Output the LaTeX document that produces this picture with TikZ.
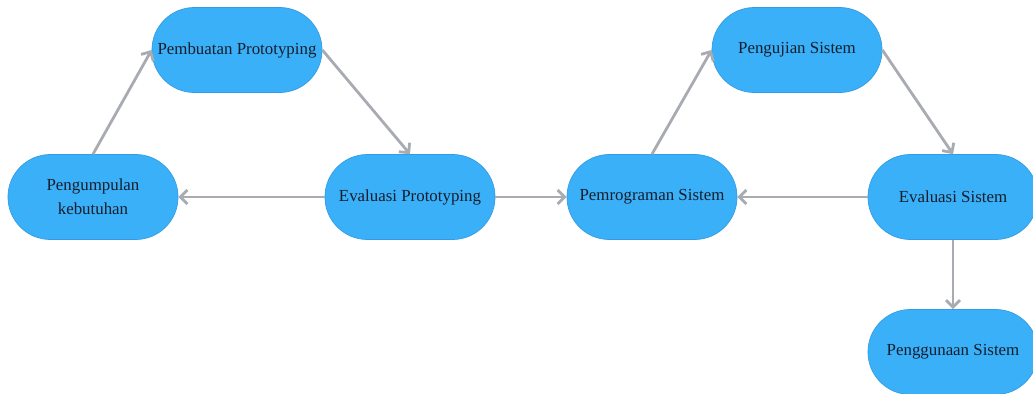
\documentclass[tikz,border=0pt]{standalone}
\usepackage{fontspec}
\setmainfont{Liberation Serif}
\usetikzlibrary{arrows.meta}
\definecolor{pillblue}{RGB}{58,176,248}
\definecolor{pillline}{RGB}{52,156,228}
\definecolor{linkgray}{RGB}{168,172,178}
\definecolor{textdark}{RGB}{22,30,44}
\begin{document}
\begin{tikzpicture}[x=0.025cm,y=-0.025cm,
    step box/.style={draw=pillline,line width=0.5pt,fill=pillblue,rounded corners=1.06cm,
        minimum width=4.25cm,minimum height=2.125cm,align=center,text=textdark,
        font=\fontsize{12}{17}\selectfont},
    link/.style={draw=linkgray,line width=2pt,-{Straight Barb[length=5pt,width=10pt,line width=2pt]}}]
        \useasboundingbox (0,0) rectangle (1033,394);
        \clip (0,0) rectangle (1033,394);

        % first cycle
        \node[step box] (kumpul) at (93,197) {Pengumpulan\\kebutuhan};
        \node[step box] (buat) at (237,50) {Pembuatan Prototyping};
        \node[step box] (evproto) at (410,197) {Evaluasi Prototyping};

        % second cycle
        \node[step box] (program) at (652,197) {Pemrograman Sistem};
        \node[step box] (uji) at (797,50) {Pengujian Sistem};
        \node[step box] (evsistem) at (953,197) {Evaluasi Sistem};
        \node[step box] (guna) at (953,352) {Penggunaan Sistem};

        \draw[link] (kumpul.north) -- (buat.west);
        \draw[link] (buat.east) -- (evproto.north);
        \draw[link] (evproto.west) -- (kumpul.east);
        \draw[link] (evproto.east) -- (program.west);

        \draw[link] (program.north) -- (uji.west);
        \draw[link] (uji.east) -- (evsistem.north);
        \draw[link] (evsistem.west) -- (program.east);
        \draw[link] (evsistem.south) -- (guna.north);
    \end{tikzpicture}
\end{document}
